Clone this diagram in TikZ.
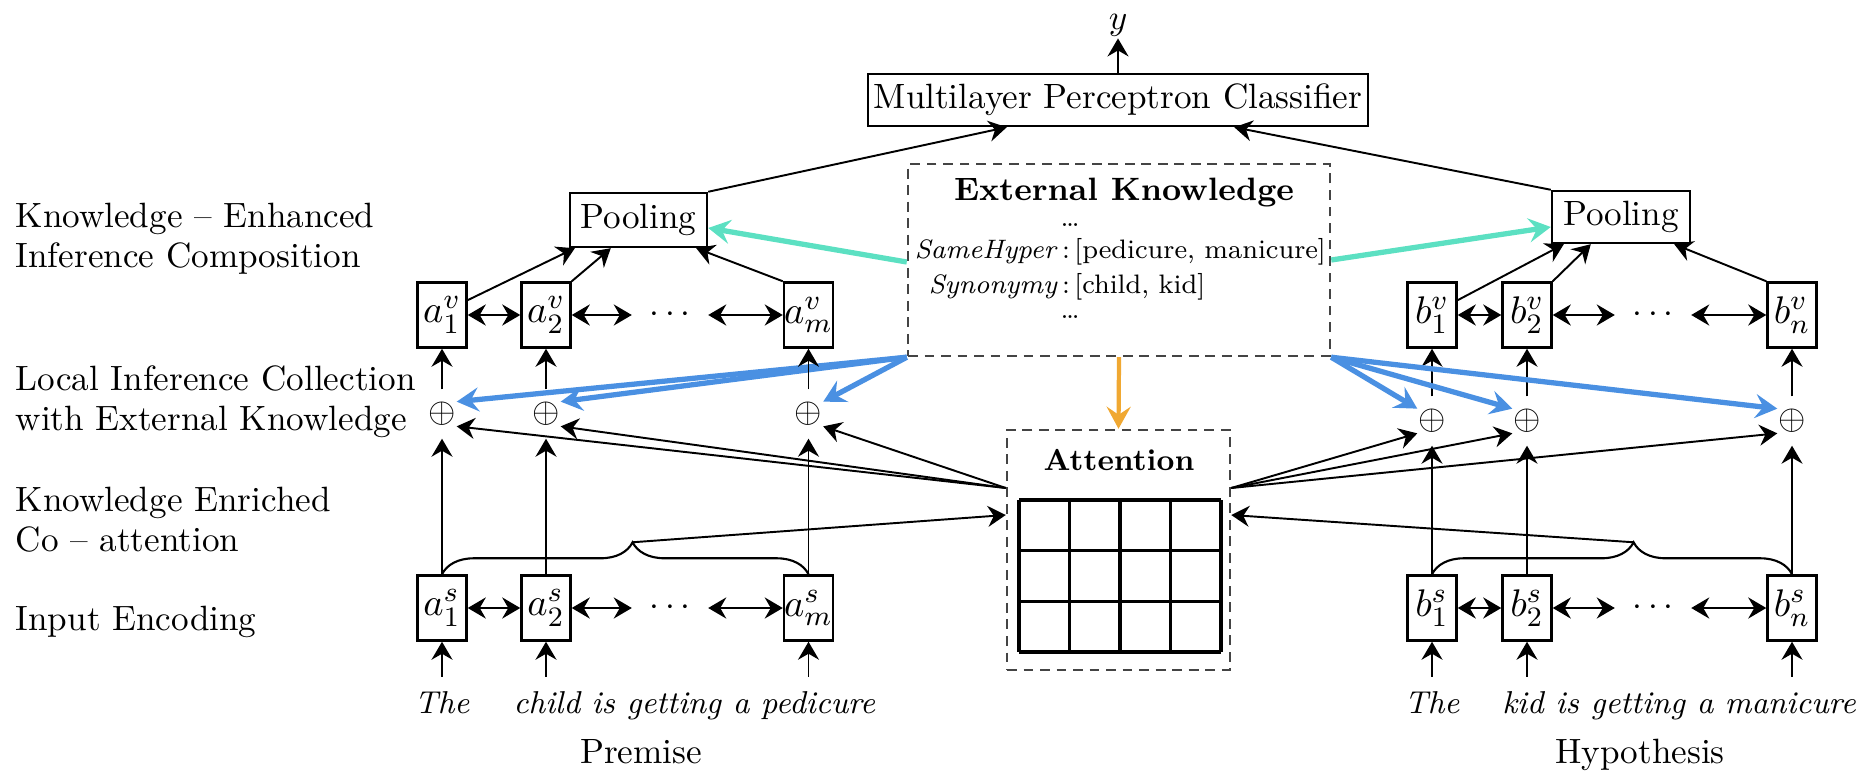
\documentclass[tikz,border=0pt]{standalone}
\usepackage{amssymb}
\usetikzlibrary{calc,arrows.meta,decorations.pathreplacing}
\definecolor{kbBlue}{RGB}{74,144,226}
\definecolor{kbTeal}{RGB}{92,224,194}
\definecolor{kbOrange}{RGB}{240,168,50}
\definecolor{dashGray}{RGB}{68,68,68}
\tikzset{
  arr/.style={-{Stealth[length=1.8mm,width=2.1mm,inset=0.6mm]},line width=0.55pt},
  darr/.style={{Stealth[length=1.8mm,width=2.1mm,inset=0.6mm]}-{Stealth[length=1.8mm,width=2.1mm,inset=0.6mm]},line width=0.8pt},
  kbarr/.style={-{Stealth[length=2.2mm,width=2.4mm,inset=0.8mm]},line width=1.5pt},
  vecbox/.style={draw,line width=0.7pt,minimum width=0.49cm,minimum height=0.65cm,inner sep=0pt,font=\fontsize{11}{11}\selectfont},
  opbox/.style={minimum width=0.28cm,minimum height=0.48cm,inner sep=0pt,font=\fontsize{10}{10}\selectfont},
  plainbox/.style={draw,line width=0.7pt,inner sep=0pt},
  dashbox/.style={draw=dashGray,dash pattern=on 2.8pt off 1.9pt,line width=0.7pt,inner sep=0pt},
  layerlbl/.style={anchor=west,align=left,inner sep=0pt,font=\fontsize{10}{11.4}\selectfont},
  wordlbl/.style={anchor=base,inner sep=0pt,font=\fontsize{9}{9}\selectfont\itshape},
  kbtxt/.style={inner sep=0pt,font=\fontsize{7.6}{7.6}\selectfont},
  gridline/.style={line width=0.9pt},
}
\begin{document}
\begin{tikzpicture}
\useasboundingbox (0,0) rectangle (18.71,-7.71);
\node[layerlbl] (lblCompose) at (0.15,-2.39) {Knowledge -- Enhanced\\Inference Composition};
\node[layerlbl] (lblLocal) at (0.15,-4.02) {Local Inference Collection\\with External Knowledge};
\node[layerlbl] (lblCoatt) at (0.15,-5.20) {Knowledge Enriched\\Co -- attention};
\node[layerlbl] (lblInput) at (0.15,-6.22) {Input Encoding};

\node[plainbox,minimum width=5cm,minimum height=0.52cm] (mlp) at (11.18,-1.00) {Multilayer Perceptron Classifier};
\node[inner sep=0.5pt] (out) at (11.18,-0.25) {$y$};
\draw[arr] (mlp.north) -- (out.south);
\node[plainbox,minimum width=1.37cm,minimum height=0.54cm] (poolA) at (6.385,-2.20) {Pooling};
\node[plainbox,minimum width=1.38cm,minimum height=0.52cm] (poolB) at (16.21,-2.17) {Pooling};
\draw[arr] (poolA.north east) -- ([xshift=1.40cm]mlp.south west);
\draw[arr] (poolB.north west) -- ([xshift=-1.35cm]mlp.south east);

\node[dashbox,minimum width=4.22cm,minimum height=1.92cm] (ext) at (11.19,-2.60) {};
\node[inner sep=0pt,font=\fontsize{9.2}{9.2}\selectfont\bfseries] (extTitle) at (11.24,-1.93) {External Knowledge};
\node[kbtxt] (extDotsA) at (10.70,-2.25) {\dots};
\node[kbtxt] (extSame) at (10.66,-2.52) {\makebox[0pt][r]{\textit{SameHyper}\,}:\makebox[0pt][l]{\,[pedicure, manicure]}};
\node[kbtxt] (extSyn) at (10.66,-2.87) {\makebox[0pt][r]{\textit{Synonymy}\,}:\makebox[0pt][l]{\,[child, kid]}};
\node[kbtxt] (extDotsB) at (10.70,-3.17) {\dots};

\node[dashbox,minimum width=2.23cm,minimum height=2.40cm] (att) at (11.185,-5.50) {};
\node[inner sep=0pt,font=\fontsize{8.6}{8.6}\selectfont\bfseries] (attTitle) at (11.19,-4.60) {Attention};
\foreach \i in {0,...,4} \draw[gridline] ({10.19+0.505*\i},-5.00) -- ++(0,-1.52);
\foreach \j in {0,...,3} \draw[gridline] (10.19,{-5.00-0.5067*\j}) -- ++(2.02,0);
\draw[-{Stealth[length=2.2mm,width=2.4mm,inset=0.8mm]},kbOrange,line width=1.2pt] (ext.south) -- (att.north);

\foreach \c/\x in {1/4.42,2/5.46,m/8.085}{
  \node[vecbox] (av\c) at (\x,-3.15) {$a^{v}_{\c}$};
  \node[vecbox] (as\c) at (\x,-6.08) {$a^{s}_{\c}$};
  \node[opbox] (ap\c) at (\x,-4.14) {$\oplus$};
  \draw[arr] (as\c) -- (ap\c);
  \draw[arr] (ap\c) -- (av\c);
  \draw[arr] ([yshift=-0.35cm]as\c.south) -- (as\c);
  \draw[arr] ([yshift=0.62cm]att.west) -- (ap\c.-40);
  \draw[kbarr,kbBlue] (ext.south west) -- (ap\c.40);
}
\foreach \c/\x in {1/14.32,2/15.27,n/17.92}{
  \node[vecbox] (bv\c) at (\x,-3.15) {$b^{v}_{\c}$};
  \node[vecbox] (bs\c) at (\x,-6.08) {$b^{s}_{\c}$};
  \node[opbox] (bp\c) at (\x,-4.21) {$\oplus$};
  \draw[arr] (bs\c) -- (bp\c);
  \draw[arr] (bp\c) -- (bv\c);
  \draw[arr] ([yshift=-0.35cm]bs\c.south) -- (bs\c);
  \draw[arr] ([yshift=0.62cm]att.east) -- (bp\c.-140);
  \draw[kbarr,kbBlue] (ext.south east) -- (bp\c.140);
}
\node[inner sep=0pt,minimum width=0.75cm] (adv) at (6.70,-3.15) {$\cdots$};
\node[inner sep=0pt,minimum width=0.75cm] (ads) at (6.70,-6.08) {$\cdots$};
\node[inner sep=0pt,minimum width=0.75cm] (bdv) at (16.53,-3.15) {$\cdots$};
\node[inner sep=0pt,minimum width=0.75cm] (bds) at (16.53,-6.08) {$\cdots$};
\foreach \r in {v,s}{
  \draw[darr] (a\r1) -- (a\r2);
  \draw[darr] (a\r2) -- (ad\r);
  \draw[darr] (ad\r) -- (a\r m);
  \draw[darr] (b\r1) -- (b\r2);
  \draw[darr] (b\r2) -- (bd\r);
  \draw[darr] (bd\r) -- (b\r n);
}

\draw[arr] (av1.30) -- ([xshift=0.06cm]poolA.south west);
\draw[arr] (av2.north east) -- ([xshift=0.42cm]poolA.south west);
\draw[arr] (avm.north west) -- ([xshift=-0.12cm]poolA.south east);
\draw[arr] (bv1.30) -- ([xshift=0.13cm]poolB.south west);
\draw[arr] (bv2.north east) -- ([xshift=0.40cm]poolB.south west);
\draw[arr] (bvn.north west) -- ([xshift=-0.17cm]poolB.south east);
\draw[kbarr,kbTeal] ([yshift=-0.02cm]ext.west) -- ([yshift=-0.08cm]poolA.east);
\draw[kbarr,kbTeal] (ext.east) -- ([yshift=-0.10cm]poolB.west);

\draw[decorate,decoration={brace,amplitude=0.32cm,aspect=0.52},line width=0.6pt] (as1.north) -- (asm.north);
\draw[decorate,decoration={brace,amplitude=0.32cm,aspect=0.56},line width=0.6pt] (bs1.north) -- (bsn.north);
\coordinate (braceA) at ($(as1.north)!0.52!(asm.north)+(0,0.32)$);
\coordinate (braceB) at ($(bs1.north)!0.56!(bsn.north)+(0,0.32)$);
\draw[arr] (braceA) -- ([yshift=0.35cm]att.west);
\draw[arr] (braceB) -- ([yshift=0.35cm]att.east);

\node[wordlbl] (wordA1) at (4.42,-7.13) {The};
\node[wordlbl,anchor=base west] (wordA2) at (5.13,-7.13) {child is getting a pedicure};
\node[anchor=base,inner sep=0pt] (premise) at (6.41,-7.63) {Premise};
\node[wordlbl] (wordB1) at (14.32,-7.13) {The};
\node[wordlbl] (wordB2) at (15.23,-7.13) {kid};
\node[wordlbl,anchor=base west] (wordB3) at (15.55,-7.13) {is getting a manicure};
\node[anchor=base,inner sep=0pt] (hypothesis) at (16.40,-7.63) {Hypothesis};
\end{tikzpicture}
\end{document}
